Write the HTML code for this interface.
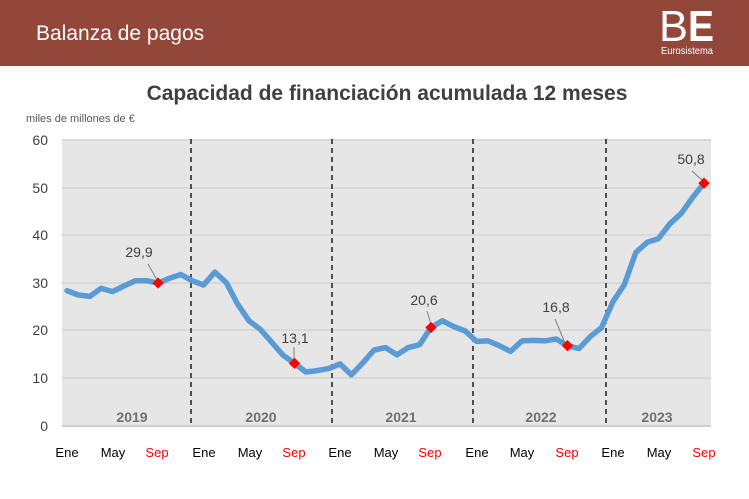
<!DOCTYPE html>
<html><head><meta charset="utf-8"><style>
html,body{margin:0;padding:0;background:#fff;width:749px;height:499px;overflow:hidden}
svg{display:block}
</style></head><body>
<svg width="749" height="499" viewBox="0 0 749 499" xmlns="http://www.w3.org/2000/svg" font-family="Liberation Sans, sans-serif">
<rect x="0" y="0" width="749" height="66" fill="#93473A"/>
<text x="36" y="40" font-size="21" fill="#fff">Balanza de pagos</text>
<text x="659" y="41" font-size="44" fill="#fff" font-weight="normal" textLength="29" lengthAdjust="spacingAndGlyphs" style="font-weight:100">B</text>
<text x="688" y="41" font-size="44" fill="#fff" font-weight="bold" textLength="26" lengthAdjust="spacingAndGlyphs">E</text>
<text x="661" y="54" font-size="10" fill="#fff" textLength="52" lengthAdjust="spacingAndGlyphs">Eurosistema</text>
<text x="387" y="100" font-size="21" font-weight="bold" fill="#404040" text-anchor="middle">Capacidad de financiación acumulada 12 meses</text>
<text x="26" y="122" font-size="11" fill="#595959">miles de millones de  €</text>
<rect x="62" y="139" width="649" height="288" fill="#E6E6E6"/>
<g stroke="#D4D4D4" stroke-width="1.5">
<line x1="62" x2="711" y1="140" y2="140"/><line x1="62" x2="711" y1="188" y2="188"/>
<line x1="62" x2="711" y1="235" y2="235"/><line x1="62" x2="711" y1="283" y2="283"/>
<line x1="62" x2="711" y1="330" y2="330"/><line x1="62" x2="711" y1="378" y2="378"/>
<line x1="62" x2="711" y1="426" y2="426" stroke="#CFCFCF" stroke-width="2"/>
</g>
<g font-size="14" fill="#404040" text-anchor="end">
<text x="48" y="145">60</text><text x="48" y="193">50</text><text x="48" y="240">40</text>
<text x="48" y="288">30</text><text x="48" y="335">20</text><text x="48" y="383">10</text><text x="48" y="431">0</text>
</g>
<g stroke="#000" stroke-width="1.3" stroke-dasharray="5,4">
<line x1="191" x2="191" y1="139" y2="427"/><line x1="332" x2="332" y1="139" y2="427"/>
<line x1="473" x2="473" y1="139" y2="427"/><line x1="606" x2="606" y1="139" y2="427"/>
</g>
<g font-size="14" font-weight="bold" fill="#707070" text-anchor="middle">
<text x="132" y="422">2019</text><text x="261" y="422">2020</text><text x="401" y="422">2021</text>
<text x="541" y="422">2022</text><text x="657" y="422">2023</text>
</g>
<polyline fill="none" stroke="#5B9BD5" stroke-width="5.5" stroke-linejoin="round" stroke-linecap="round" points="67.0,290.7 78.4,295.0 89.8,296.4 101.1,288.3 112.5,291.6 123.9,286.0 135.3,280.7 146.6,280.7 158.0,283.1 169.4,278.3 180.8,274.5 192.1,280.7 203.5,285.0 214.9,272.1 226.3,282.6 237.6,304.1 249.0,320.8 260.4,329.4 271.8,342.3 283.1,355.3 294.5,363.4 305.9,372.0 317.3,370.6 328.6,368.6 340.0,363.9 351.4,374.9 362.8,362.9 374.1,350.0 385.5,347.6 396.9,354.8 408.3,347.6 419.6,344.7 431.0,327.5 442.4,320.8 453.8,326.6 465.1,330.9 476.5,341.4 487.9,340.9 499.3,345.7 510.6,351.4 522.0,340.9 533.4,340.4 544.8,340.9 556.1,339.0 567.5,345.7 578.9,348.6 590.3,336.6 601.6,327.5 613.0,301.7 624.4,284.5 635.8,252.5 647.1,242.4 658.5,238.6 669.9,223.8 681.3,213.3 692.6,197.5 704.0,183.2"/>
<g stroke="#808080" stroke-width="1">
<line x1="148" y1="264" x2="157" y2="280"/><line x1="294" y1="347" x2="294" y2="360"/>
<line x1="427" y1="311" x2="431" y2="324"/><line x1="555" y1="319" x2="565" y2="343"/>
<line x1="692" y1="171" x2="702" y2="180"/>
</g>
<g fill="#FF0000">
<rect x="154" y="279" width="8" height="8" transform="rotate(45 158 283.1)"/>
<rect x="290.5" y="359.4" width="8" height="8" transform="rotate(45 294.5 363.4)"/>
<rect x="427" y="323.5" width="8" height="8" transform="rotate(45 431 327.5)"/>
<rect x="563.5" y="341.7" width="8" height="8" transform="rotate(45 567.5 345.7)"/>
<rect x="700" y="179.2" width="8" height="8" transform="rotate(45 704 183.2)"/>
</g>
<g font-size="14" fill="#404040" text-anchor="middle">
<text x="139" y="257">29,9</text><text x="295" y="343">13,1</text><text x="424" y="305">20,6</text>
<text x="556" y="312">16,8</text><text x="691" y="164">50,8</text>
</g>
<g font-size="13" text-anchor="middle" fill="#000">
<text x="67" y="457">Ene</text><text x="113" y="457">May</text><text x="157" y="457" fill="#FF0000">Sep</text>
<text x="204" y="457">Ene</text><text x="250" y="457">May</text><text x="294" y="457" fill="#FF0000">Sep</text>
<text x="340" y="457">Ene</text><text x="386" y="457">May</text><text x="430" y="457" fill="#FF0000">Sep</text>
<text x="477" y="457">Ene</text><text x="522" y="457">May</text><text x="567" y="457" fill="#FF0000">Sep</text>
<text x="613" y="457">Ene</text><text x="659" y="457">May</text><text x="704" y="457" fill="#FF0000">Sep</text>
</g>
</svg>
</body></html>
